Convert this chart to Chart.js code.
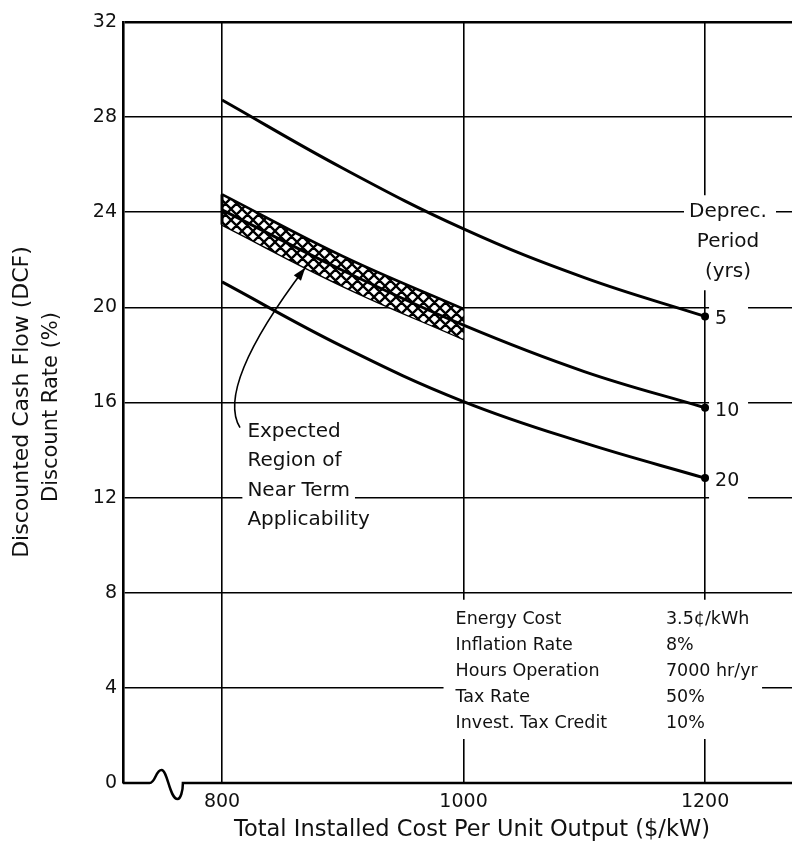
<!DOCTYPE html>
<html>
<head>
<meta charset="utf-8">
<script src="https://cdn.jsdelivr.net/npm/chart.js@4.4.1/dist/chart.umd.min.js"></script>
<style>
  html, body { margin: 0; padding: 0; background: #fff; }
  #wrap { width: 792px; height: 850px; }
</style>
</head>
<body>
<div id="wrap"><canvas id="dcfChart" width="792" height="850"></canvas></div>
<script>
// installed cost ($/kW)
const costs = [800, 900, 1000, 1100, 1200];
const xTicks = [800, 1000, 1200];
const yTicks = [0, 4, 8, 12, 16, 20, 24, 28, 32];

// DCF discount rate (%) per depreciation period
const dep5 = [28.72, 25.85, 23.3, 21.25, 19.62];
const dep10 = [24.1, 21.55, 19.25, 17.3, 15.78];
const dep20 = [21.07, 18.35, 16.04, 14.3, 12.82];

// expected region of near term applicability
const bandCosts = [800, 900, 1000];
const bandUpper = [24.75, 22.15, 19.93];
const bandLower = [23.48, 20.9, 18.67];

const periodLabels = ['5', '10', '20'];
const tableLabels = ['Energy Cost', 'Inflation Rate', 'Hours Operation', 'Tax Rate', 'Invest. Tax Credit'];
const tableValues = ['3.5¢/kWh', '8%', '7000 hr/yr', '50%', '10%'];

const FONT = '"DejaVu Sans", "Liberation Sans", sans-serif';
const INK = '#111';

function hatchPattern() {
    const s = 11;
    const c = document.createElement('canvas');
    c.width = s; c.height = s;
    const g = c.getContext('2d');
    g.fillStyle = '#fff';
    g.fillRect(0, 0, s, s);
    g.strokeStyle = '#000';
    g.lineWidth = 2.3;
    g.beginPath();
    for (let k = -1; k <= 1; k++) {
        g.moveTo(k * s, s); g.lineTo(k * s + s, 0);
        g.moveTo(k * s, 0); g.lineTo(k * s + s, s);
    }
    g.stroke();
    return g.createPattern(c, 'repeat');
}

const line = (label, xs, ys, extra) => Object.assign({
    label: label,
    data: xs.map((x, i) => ({ x: x, y: ys[i] })),
    borderColor: '#000',
    backgroundColor: '#000',
    borderWidth: 3,
    pointRadius: xs.map((x, i) => i === xs.length - 1 ? 2.5 : 0),
    tension: 0.4,
    fill: false,
    order: 0
}, extra || {});

// labels, knockouts, arrow and axis break
const annotations = {
    id: 'annotations',
    afterDraw(chart) {
        const { ctx, chartArea: a, scales: { x, y } } = chart;
        const X = v => x.getPixelForValue(v);
        const Y = v => y.getPixelForValue(v);
        ctx.save();

        // left edge of the band
        ctx.strokeStyle = '#000';
        ctx.lineWidth = 3;
        ctx.beginPath();
        ctx.moveTo(X(bandCosts[0]), Y(bandUpper[0]));
        ctx.lineTo(X(bandCosts[0]), Y(bandLower[0]));
        ctx.stroke();

        // x axis with break
        ctx.lineWidth = 2.5;
        const y0 = Y(0), b1 = X(740), b2 = X(767.6);
        ctx.beginPath();
        ctx.moveTo(a.left, y0);
        ctx.lineTo(b1, y0);
        ctx.bezierCurveTo(b1 + 6, y0, b1 + 6, y0 - 13, b1 + 12, y0 - 13);
        ctx.bezierCurveTo(b1 + 18, y0 - 13, b1 + 20, y0 + 16, b1 + 28, y0 + 16);
        ctx.bezierCurveTo(b1 + 31, y0 + 16, b2, y0 + 8, b2, y0);
        ctx.lineTo(a.right, y0);
        ctx.stroke();

        ctx.fillStyle = INK;
        ctx.textBaseline = 'middle';

        // depreciation period header
        const dx = X(1219), dy = Y(24);
        ctx.fillStyle = '#fff';
        ctx.fillRect(dx - 44, dy - 17, 92, 95);
        ctx.fillStyle = INK;
        ctx.font = '20px ' + FONT;
        ctx.textAlign = 'center';
        ['Deprec.', 'Period', '(yrs)'].forEach((t, i) => ctx.fillText(t, dx, dy + i * 30));

        // period numbers at curve ends
        const ends = [dep5, dep10, dep20].map(s => s[s.length - 1]);
        ctx.textAlign = 'left';
        ctx.font = '19px ' + FONT;
        periodLabels.forEach((t, i) => {
            const ly = Y(ends[i]) + 3;
            ctx.fillStyle = '#fff';
            ctx.fillRect(X(1200) + 4, ly - 15, 39, 33);
            ctx.fillStyle = INK;
            ctx.fillText(t, X(1200) + 10, ly);
        });

        // region label
        ctx.font = '20px ' + FONT;
        const rx = X(821), ry = Y(12);
        ['Expected', 'Region of', 'Near Term', 'Applicability'].forEach((t, i) => {
            const ly = ry - 66 + i * 29.5;
            const w = ctx.measureText(t).width;
            ctx.fillStyle = '#fff';
            ctx.fillRect(rx - 5, ly - 11, w + 10, 22);
            ctx.fillStyle = INK;
            ctx.fillText(t, rx, ly);
        });

        // arrow to the band
        ctx.strokeStyle = '#000';
        ctx.lineWidth = 1.6;
        const p0 = [X(814.9), Y(14.94)], p1 = [X(803.3), Y(15.91)];
        const p2 = [X(812.4), Y(17.88)], p3 = [X(868.9), Y(21.67)];
        ctx.beginPath();
        ctx.moveTo(p0[0], p0[1]);
        ctx.bezierCurveTo(p1[0], p1[1], p2[0], p2[1], p3[0], p3[1]);
        ctx.stroke();
        const ang = Math.atan2(p3[1] - p2[1], p3[0] - p2[0]);
        ctx.fillStyle = '#000';
        ctx.beginPath();
        ctx.moveTo(p3[0], p3[1]);
        ctx.lineTo(p3[0] - 13 * Math.cos(ang) + 4.5 * Math.sin(ang), p3[1] - 13 * Math.sin(ang) - 4.5 * Math.cos(ang));
        ctx.lineTo(p3[0] - 13 * Math.cos(ang) - 4.5 * Math.sin(ang), p3[1] - 13 * Math.sin(ang) + 4.5 * Math.cos(ang));
        ctx.closePath();
        ctx.fill();

        // assumptions table
        ctx.fillStyle = '#fff';
        ctx.fillRect(X(1000) - 20, Y(8) + 7, X(1200) - X(1000) + 77, Y(0) - Y(8) - 51);
        ctx.fillStyle = INK;
        ctx.font = '17.5px ' + FONT;
        tableLabels.forEach((t, i) => {
            const ly = Y(8) + 27 + i * 26;
            ctx.fillText(t, X(993.4), ly);
            ctx.fillText(tableValues[i], X(1167.6), ly);
        });

        // axis titles
        ctx.font = '22.5px ' + FONT;
        ctx.textAlign = 'center';
        ctx.fillText('Total Installed Cost Per Unit Output ($/kW)', 472, 830);
        ctx.font = '22px ' + FONT;
        ctx.save();
        ctx.translate(22, 402);
        ctx.rotate(-Math.PI / 2);
        ctx.fillText('Discounted Cash Flow (DCF)', 0, 0);
        ctx.restore();
        ctx.font = '21px ' + FONT;
        ctx.save();
        ctx.translate(52, 407);
        ctx.rotate(-Math.PI / 2);
        ctx.fillText('Discount Rate (%)', 0, 0);
        ctx.restore();

        ctx.restore();
    }
};

const ctxEl = document.getElementById('dcfChart');
new Chart(ctxEl, {
    type: 'line',
    data: {
        datasets: [
            line('Region upper', bandCosts, bandUpper, { fill: '+1', backgroundColor: hatchPattern(), borderWidth: 2.6, pointRadius: 0, order: 5 }),
            line('Region lower', bandCosts, bandLower, { borderWidth: 2.6, pointRadius: 0, order: 5 }),
            line('5 yrs', costs, dep5),
            line('10 yrs', costs, dep10),
            line('20 yrs', costs, dep20)
        ]
    },
    options: {
        responsive: false,
        animation: false,
        devicePixelRatio: 1,
        layout: { autoPadding: false, padding: { top: 22, left: 0, right: 0, bottom: 0 } },
        plugins: {
            legend: { display: false },
            tooltip: { enabled: false }
        },
        scales: {
            x: {
                type: 'linear',
                min: 718,
                max: 1272,
                afterBuildTicks: s => { s.ticks = xTicks.map(v => ({ value: v })); },
                afterFit: s => { s.height = 67; s.paddingLeft = 0; s.paddingRight = 0; },
                ticks: { color: INK, font: { family: FONT, size: 19 }, padding: 8, callback: v => String(v) },
                grid: { color: '#000', lineWidth: 1.6, drawTicks: false },
                border: { display: false }
            },
            y: {
                min: 0,
                max: 32,
                afterBuildTicks: s => { s.ticks = yTicks.map(v => ({ value: v })); },
                afterFit: s => { s.width = 123; },
                ticks: { color: INK, font: { family: FONT, size: 19 }, padding: 6 },
                grid: {
                    color: c => c.tick && c.tick.value === 0 ? 'rgba(0,0,0,0)' : '#000',
                    lineWidth: c => c.tick && c.tick.value === 32 ? 2.6 : 1.6,
                    drawTicks: false
                },
                border: { display: true, color: '#000', width: 2.6 }
            }
        }
    },
    plugins: [annotations]
});
</script>
</body>
</html>
